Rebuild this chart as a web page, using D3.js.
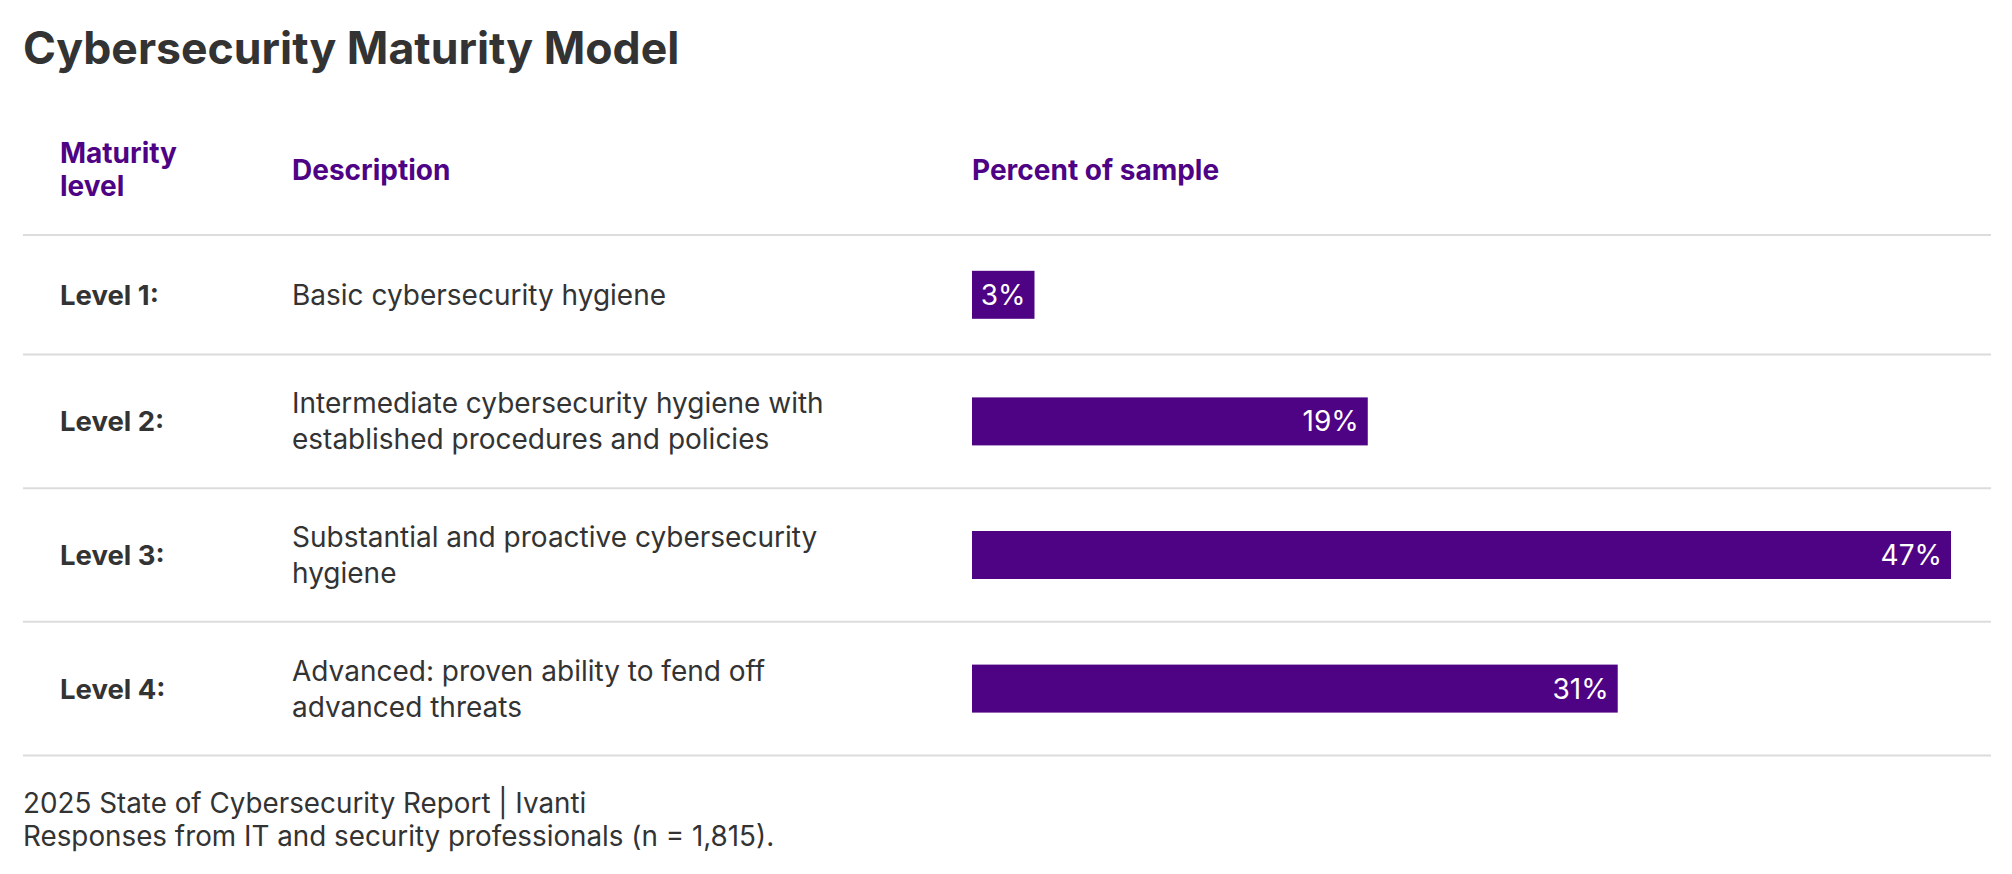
<!DOCTYPE html>
<html>
<script src='https://d3js.org/d3.v7.min.js'></script>
<style>
  body { margin: 0; background: #fff; }
  text { font-family: Inter, 'Noto Sans', sans-serif; }
</style>
<body>

<svg width="2012" height="874"></svg>

<script>

var levels = ["Level 1:", "Level 2:", "Level 3:", "Level 4:"];

var descriptions = [
    ["Basic cybersecurity hygiene"],
    ["Intermediate cybersecurity hygiene with", "established procedures and policies"],
    ["Substantial and proactive cybersecurity", "hygiene"],
    ["Advanced: proven ability to fend off", "advanced threats"]
];

var percents = [3, 19, 47, 31];

var headers = [["Maturity", "level"], ["Description"], ["Percent of sample"]];

var footnotes = [
    "2025 State of Cybersecurity Report | Ivanti",
    "Responses from IT and security professionals (n = 1,815)."
];

var purple = "#4e0385",
    ink = "#333333",
    rule = "#dcdcdc";

var svg = d3.select("svg");

// row layout
var tableLeft = 23, tableRight = 1991,
    colLevel = 60, colDesc = 292, colBar = 972,
    tableTop = 235, lineH = 36, barH = 48, rowPad = 30.8;

// row height depends on how many lines the description takes
var rowH = descriptions.map(function (d) { return 2 * rowPad + Math.max(barH + 10, d.length * lineH); });
var rowTop = [tableTop].concat(Array.from(d3.cumsum(rowH), function (h) { return tableTop + h; }));

var yScale = d3.scaleOrdinal()
    .domain(levels)
    .range(levels.map(function (d, i) { return rowTop[i] + rowH[i] / 2; }));

var xScale = d3.scaleLinear().domain([0, 47]).range([colBar, 1951]);

// Title
svg.append('text')
    .attr('x', 23)
    .attr('y', 64)
    .style('font-size', '44.6px')
    .style('font-weight', 700)
    .style('fill', ink)
    .text('Cybersecurity Maturity Model');

// column headers
var headX = [colLevel, colDesc, colBar];
headers.forEach(function (lines, i) {
    var t = svg.append('text')
        .attr('x', headX[i])
        .attr('y', 180 - (lines.length - 1) * 17)
        .style('font-size', '28px')
        .style('font-weight', 700)
        .style('fill', purple);
    t.selectAll('tspan').data(lines).enter().append('tspan')
        .attr('x', headX[i])
        .attr('dy', function (d, j) { return j == 0 ? 0 : 33; })
        .text(function (d) { return d; });
});

// horizontal rules
svg.append('g').selectAll('line')
    .data(rowTop)
    .enter().append('line')
    .attr('x1', tableLeft).attr('x2', tableRight)
    .attr('y1', function (d) { return d; })
    .attr('y2', function (d) { return d; })
    .style('stroke', rule)
    .style('stroke-width', 2);

var rows = svg.append('g').selectAll('g')
    .data(levels)
    .enter().append('g')
    .attr('transform', function (d) { return 'translate(0,' + yScale(d) + ')'; });

// level labels
rows.append('text')
    .attr('x', colLevel)
    .attr('y', 10)
    .style('font-size', '27.5px')
    .style('font-weight', 700)
    .style('fill', ink)
    .text(function (d) { return d; });

// descriptions
rows.append('text')
    .attr('y', function (d, i) { return 10 - (descriptions[i].length - 1) * 18; })
    .style('font-size', '28px')
    .style('fill', ink)
    .selectAll('tspan')
    .data(function (d, i) { return descriptions[i]; })
    .enter().append('tspan')
    .attr('x', colDesc)
    .attr('dy', function (d, j) { return j == 0 ? 0 : lineH; })
    .text(function (d) { return d; });

// bars
rows.append('rect')
    .attr('x', xScale(0))
    .attr('y', -barH / 2)
    .attr('width', function (d, i) { return xScale(percents[i]) - xScale(0); })
    .attr('height', barH)
    .style('fill', purple);

rows.append('text')
    .attr('x', function (d, i) { return xScale(percents[i]) - 9; })
    .attr('y', 10)
    .attr('text-anchor', 'end')
    .style('font-size', '28px')
    .style('fill', '#fff')
    .text(function (d, i) { return percents[i] + '%'; });

// footnote
svg.append('g').selectAll('text')
    .data(footnotes)
    .enter().append('text')
    .attr('x', 23)
    .attr('y', function (d, i) { return 813 + i * 33; })
    .style('font-size', '27.8px')
    .style('fill', ink)
    .text(function (d) { return d; });

</script>

</body>

</html>
